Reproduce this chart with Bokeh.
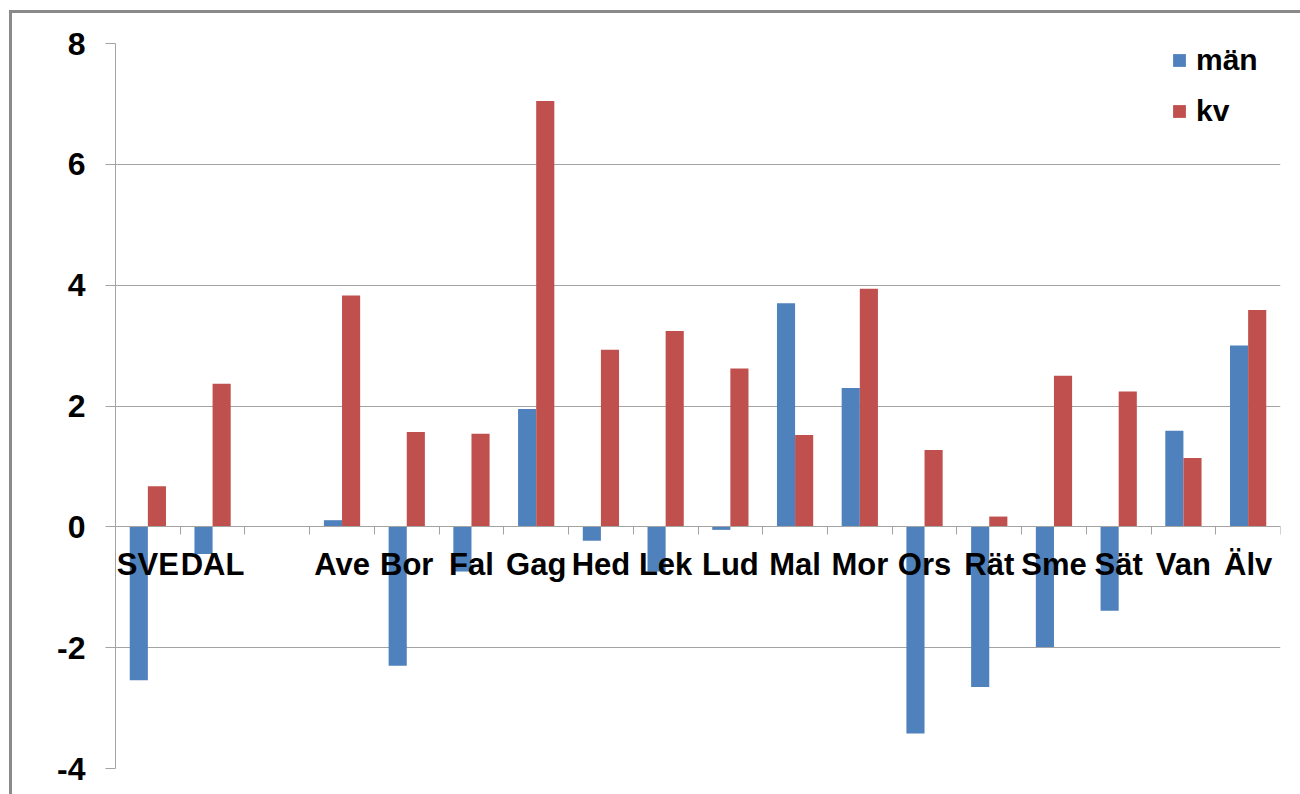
from bokeh.plotting import figure
from bokeh.models import (Range1d, FixedTicker, LinearAxis, Legend,
                          LegendItem, ColumnDataSource, CustomJSTickFormatter)
from bokeh.transform import dodge
from bokeh.embed import file_html
from bokeh.resources import INLINE

# ---- data ----
categories = ["SVE", "DAL", "", "Ave", "Bor", "Fal", "Gag", "Hed", "Lek", "Lud",
              "Mal", "Mor", "Ors", "Rät", "Sme", "Sät", "Van", "Älv"]
man = [-2.54, -0.45, None, 0.11, -2.30, -0.74, 1.95, -0.23, -0.74, -0.05,
       3.70, 2.30, -3.42, -2.65, -1.99, -1.39, 1.59, 3.00]
kv = [0.67, 2.37, None, 3.83, 1.57, 1.54, 7.05, 2.93, 3.24, 2.62,
      1.52, 3.94, 1.27, 0.17, 2.50, 2.24, 1.14, 3.59]
series_names = ["män", "kv"]
y_ticks = [-4, -2, 0, 2, 4, 6, 8]
y_tick_labels = ["-4", "-2", "0", "2", "4", "6", "8"]

BLUE = "#4F81BD"
RED = "#C0504D"
GRID = "#a3a3a3"
BORDER = "#8a8a8a"
FONT = "Liberation Sans"

n = len(categories)
centers = [i + 0.5 for i in range(n)]
src = ColumnDataSource(dict(x=centers, man=man, kv=kv))

p = figure(x_range=Range1d(0, n), y_range=Range1d(y_ticks[0], y_ticks[-1]),
           width=1300, height=794, output_backend="svg", toolbar_location=None,
           min_border_left=115, min_border_top=43, min_border_right=20,
           min_border_bottom=26, x_axis_location=None)
p.outline_line_color = None
p.background_fill_color = "white"
p.border_fill_color = None
p.styles = {
    "background-color": "white",
    "background-image": f"linear-gradient({BORDER},{BORDER}), linear-gradient({BORDER},{BORDER})",
    "background-position": "9px 10px, 9px 10px",
    "background-size": "3px 100%, 100% 3px",
    "background-repeat": "no-repeat",
}

r1 = p.vbar(x=dodge("x", -0.14), top="man", bottom=0, width=0.28,
            source=src, fill_color=BLUE, line_color=None)
r2 = p.vbar(x=dodge("x", 0.14), top="kv", bottom=0, width=0.28,
            source=src, fill_color=RED, line_color=None)

# grid
p.xgrid.visible = False
p.ygrid.ticker = FixedTicker(ticks=y_ticks)
p.ygrid.grid_line_color = GRID
p.ygrid.grid_line_width = 1.2

# y axis
p.yaxis.ticker = FixedTicker(ticks=y_ticks)
p.yaxis.major_label_overrides = {t: l for t, l in zip(y_ticks, y_tick_labels)}
p.yaxis.axis_line_color = GRID
p.yaxis.major_tick_line_color = GRID
p.yaxis.major_tick_out = 10
p.yaxis.major_tick_in = 0
p.yaxis.minor_tick_line_color = None
p.yaxis.major_label_standoff = 20
p.yaxis.major_label_text_font = FONT
p.yaxis.major_label_text_font_style = "bold"
p.yaxis.major_label_text_font_size = "32px"
p.yaxis.major_label_text_color = "black"

# boundary tick axis at y = 0
tick_axis = LinearAxis(ticker=FixedTicker(ticks=list(range(n + 1))),
                       formatter=CustomJSTickFormatter(code="return ''"))
tick_axis.fixed_location = 0
tick_axis.axis_line_color = GRID
tick_axis.major_tick_line_color = GRID
tick_axis.major_tick_out = 8
tick_axis.major_tick_in = 0
tick_axis.minor_tick_line_color = None
p.add_layout(tick_axis, "below")

# category label axis at y = 0
label_axis = LinearAxis(ticker=FixedTicker(ticks=centers))
label_axis.major_label_overrides = {c: lab for c, lab in zip(centers, categories)}
label_axis.fixed_location = 0
label_axis.axis_line_color = None
label_axis.major_tick_line_color = None
label_axis.minor_tick_line_color = None
label_axis.major_tick_out = 0
label_axis.major_tick_in = 0
label_axis.major_label_standoff = 20
label_axis.major_label_text_font = FONT
label_axis.major_label_text_font_style = "bold"
label_axis.major_label_text_font_size = "31px"
label_axis.major_label_text_color = "black"
p.add_layout(label_axis, "below")

# legend
legend = Legend(items=[LegendItem(label=series_names[0], renderers=[r1]),
                       LegendItem(label=series_names[1], renderers=[r2])],
                location=(1056, 640), border_line_color=None, background_fill_alpha=0,
                padding=7, spacing=17, glyph_width=16, glyph_height=16, label_standoff=9,
                label_text_font=FONT, label_text_font_style="bold",
                label_text_font_size="30px", label_text_color="black")
p.add_layout(legend)

open("out.html", "w").write(file_html(p, INLINE))
